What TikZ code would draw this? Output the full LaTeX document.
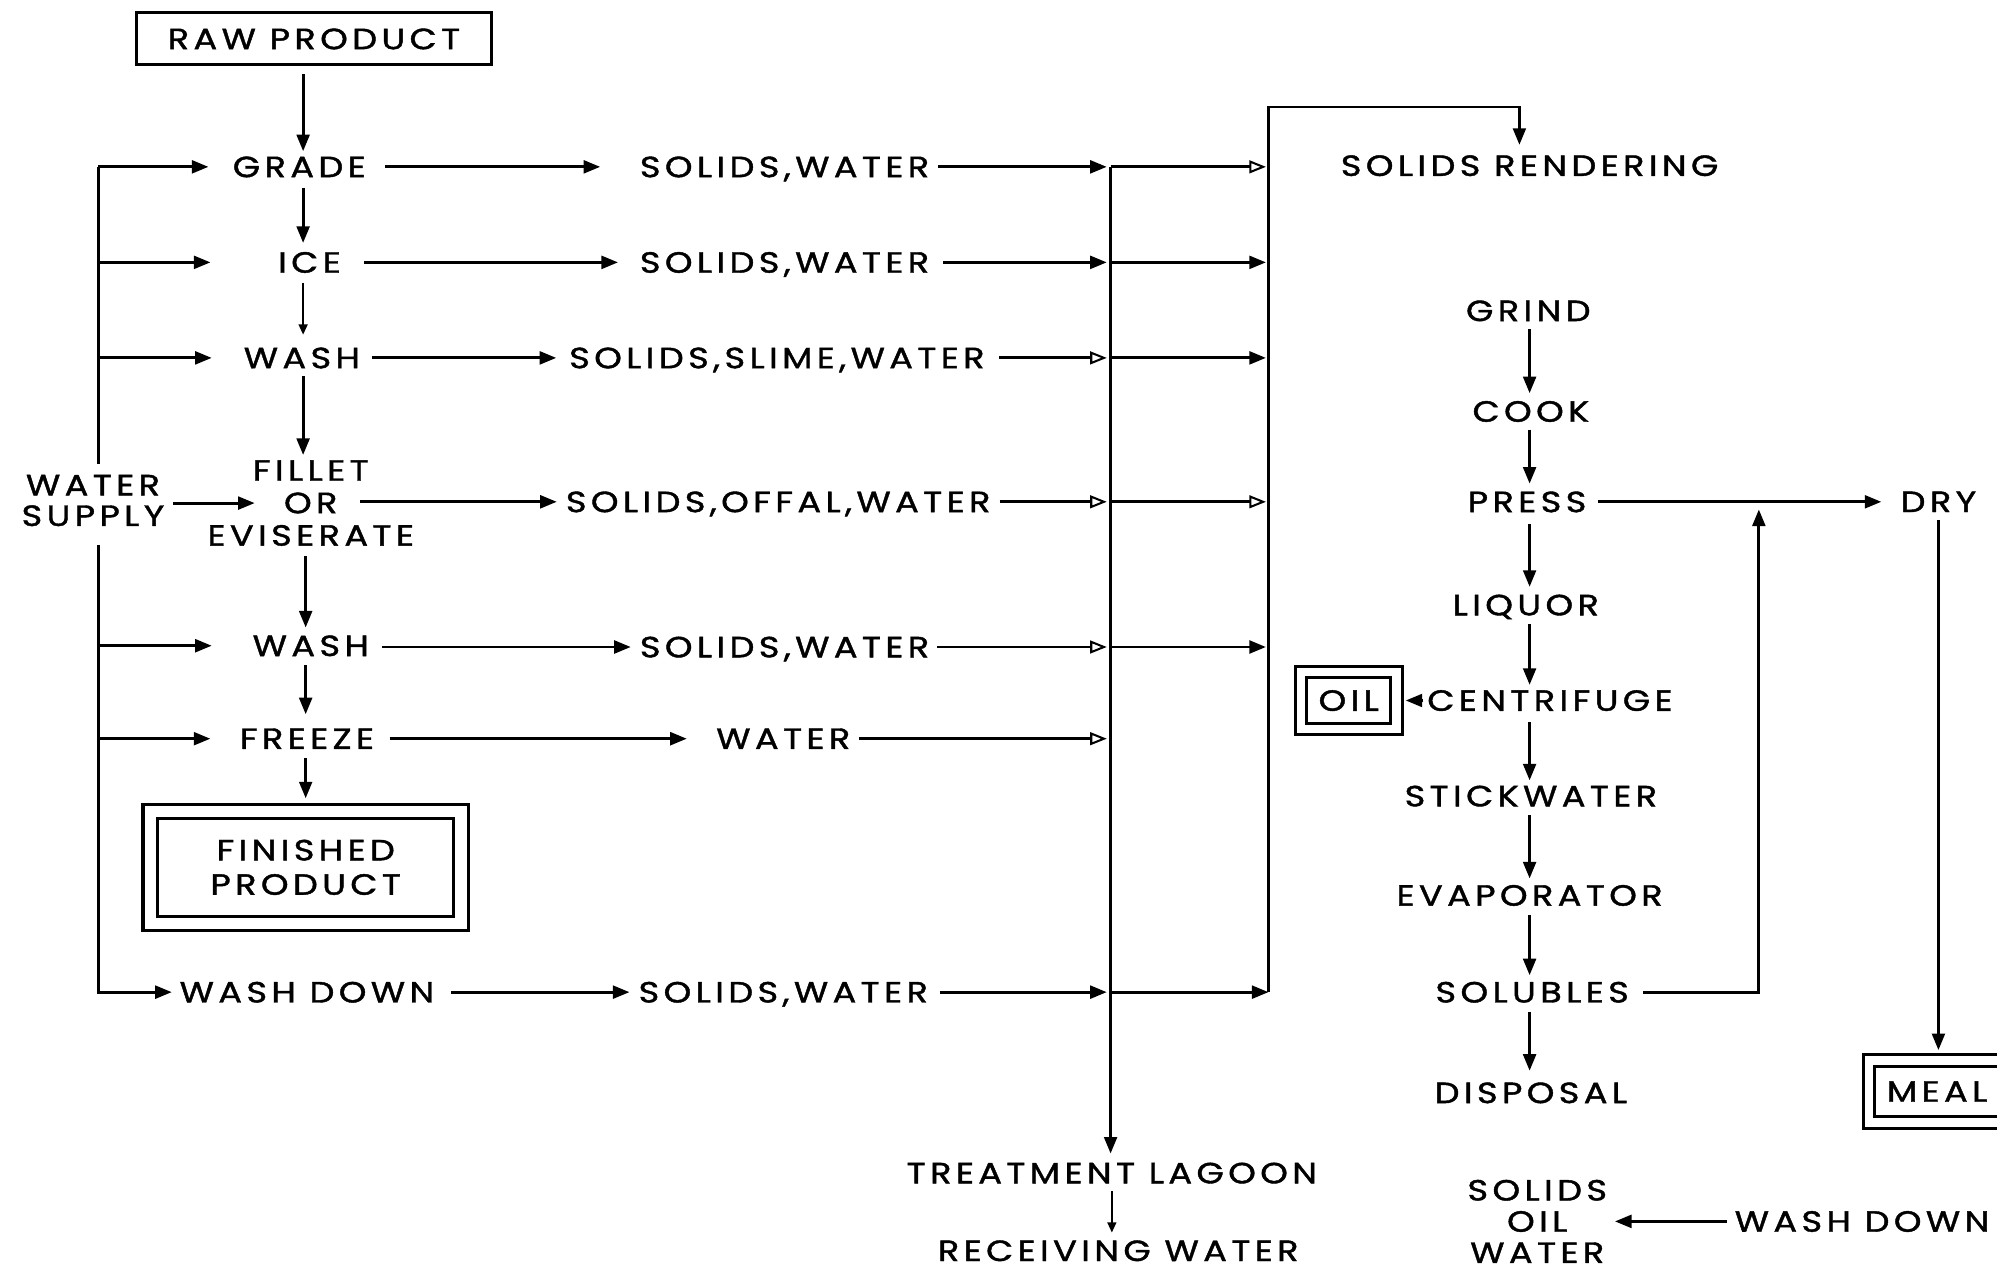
\documentclass[tikz,border=0pt]{standalone}
\usepackage{fontspec}
\setmainfont{Poppins}[LetterSpace=15,FakeBold=1.4,FakeStretch=1.2]
\usetikzlibrary{arrows.meta}
\begin{document}
\begin{tikzpicture}[x=1pt,y=-1pt,line width=2.3pt,
  lbl/.style={inner sep=0pt,align=center,font=\fontsize{23}{25.5}\selectfont},
  one/.style={lbl,text depth=0pt},
  arr/.style={-{Triangle[length=13pt,width=10pt]}},
  oarr/.style={-{Triangle[open,length=13pt,width=10pt,line width=1.6pt]}},
  thinarr/.style={line width=1.3pt,-{Triangle[length=8pt,width=7pt]}},
  dbox/.style={draw,double,double distance=6.5pt,line width=2.4pt,inner sep=0pt}]
\useasboundingbox (0,0) rectangle (1568,997);

% ---------- left column ----------
\node[one,draw,line width=2.3pt,minimum width=279pt,minimum height=41pt] (raw) at (246.5,30.5) {RAW PRODUCT};
\node[one] (grade) at (235,131) {GRADE};
\node[one] (ice) at (243,206) {ICE};
\node[one] (wash1) at (237,281) {WASH};
\node[lbl] (fillet) at (244,395) {FILLET\\OR\\EVISERATE};
\node[one] (wash2) at (244,507) {WASH};
\node[one] (freeze) at (241,580) {FREEZE};
\node[lbl,dbox,double distance=9pt,minimum width=244pt,minimum height=88pt,font=\fontsize{23}{27}\selectfont] (fin) at (240,681) {FINISHED\\PRODUCT};
\node[lbl,font=\fontsize{23}{24}\selectfont] (wsup) at (73,393) {WATER\\SUPPLY};
\node[one] (wdown) at (241,779) {WASH DOWN};

\coordinate (cx) at (238,0);
\coordinate (L) at (77,131);

% ---------- middle column ----------
\node[one] (sw1) at (616,131) {SOLIDS,WATER};
\node[one] (sw2) at (616,206) {SOLIDS,WATER};
\node[one] (ssw) at (610,281) {SOLIDS,SLIME,WATER};
\node[one] (sow) at (611,394) {SOLIDS,OFFAL,WATER};
\node[one] (sw3) at (616,508) {SOLIDS,WATER};
\node[one] (wat) at (615,580) {WATER};
\node[one] (sw4) at (615,779) {SOLIDS,WATER};

\node[one] (lagoon) at (873,921) {TREATMENT LAGOON};
\node[one] (recv) at (878,982) {RECEIVING WATER};
\node[one] (rend) at (1201,130) {SOLIDS RENDERING};

\coordinate (C1) at (872,131);
\coordinate (C2top) at (996,84);
\coordinate (C2bot) at (996,779);
\coordinate (R) at (1193,84);

% ---------- right column ----------
\node[one] (grind) at (1200,244) {GRIND};
\node[one] (cook) at (1202,323) {COOK};
\node[one] (press) at (1199,394) {PRESS};
\node[one] (liquor) at (1198,475) {LIQUOR};
\node[one] (centr) at (1217,550) {CENTRIFUGE};
\node[one] (stick) at (1202,625) {STICKWATER};
\node[one] (evap) at (1201,703) {EVAPORATOR};
\node[one] (solub) at (1203,779) {SOLUBLES};
\node[one] (disp) at (1202,858) {DISPOSAL};
\node[one] (dry) at (1522,394) {DRY};
\node[one,dbox,minimum width=75pt,minimum height=44.5pt] (oil) at (1059,550) {OIL};
\node[one,dbox,minimum width=107pt,minimum height=48.5pt] (meal) at (1521,857) {MEAL};
\node[one] (wd2) at (1462,959) {WASH DOWN};
\node[lbl,font=\fontsize{23}{24.5}\selectfont] (sow2) at (1207,959) {SOLIDS\\OIL\\WATER};
\coordinate (cx2) at (1201,0);
\coordinate (S) at (1381,779);

% ---------- vertical flow, left ----------
\draw[arr,shorten <=6pt,shorten >=3pt] (raw.south -| cx) -- (grade.north -| cx);
\draw[arr,shorten <=7pt,shorten >=6pt] (grade.south -| cx) -- (ice.north -| cx);
\draw[thinarr,shorten <=7pt,shorten >=9pt] (ice.south -| cx) -- (wash1.north -| cx);
\draw[arr,shorten <=5pt,shorten >=3pt] (wash1.south -| cx) -- (fillet.north -| cx);
\draw[arr,shorten <=7pt,shorten >=5pt] (fillet.south -| wash2) ++(-4,0) -- (wash2.north -| 240,0);
\draw[arr,shorten <=6pt,shorten >=10pt] (wash2.south -| 240,0) -- (freeze.north -| 240,0);
\draw[arr,shorten <=6pt,shorten >=9pt] (freeze.south -| 240,0) -- (fin.north -| 240,0);

% ---------- water supply ----------
\draw (L) -- (77,364);
\draw[arr,shorten >=5pt] (77,428) -- (L |- wdown) -- (wdown.west);
\draw[arr,shorten >=18pt] (L |- grade) -- (grade.west);
\draw[arr,shorten >=52pt] (L |- ice) -- (ice.west);
\draw[arr,shorten >=24pt] (L |- wash1) -- (wash1.west);
\draw[arr,shorten >=31pt] (L |- wash2) -- (wash2.west);
\draw[arr,shorten >=22pt] (L |- freeze) -- (freeze.west);
\draw[arr,shorten <=6pt,shorten >=44pt] (wsup.east |- fillet) -- (fillet.center);

% ---------- process -> waste ----------
\draw[arr,shorten <=14pt,shorten >=30pt] (grade.east) -- (sw1.west);
\draw[arr,shorten <=17pt,shorten >=16pt] (ice.east) -- (sw2.west);
\draw[arr,shorten <=8pt,shorten >=9pt] (wash1.east) -- (ssw.west);
\draw[arr,shorten <=39pt,shorten >=6pt] (fillet.center |- sow) -- (sow.west);
\draw[arr,shorten <=9pt,shorten >=6pt] (wash2.east |- sw3) -- (sw3.west);
\draw[arr,shorten <=11pt,shorten >=22pt] (freeze.east) -- (wat.west);
\draw[arr,shorten <=12pt,shorten >=6pt] (wdown.east) -- (sw4.west);

% ---------- waste -> collector ----------
\draw[arr,shorten <=6pt,shorten >=3pt] (sw1.east) -- (sw1.east -| C1);
\draw[arr,shorten <=10pt,shorten >=3pt] (sw2.east) -- (sw2.east -| C1);
\draw[oarr,shorten <=10pt,shorten >=3pt] (ssw.east) -- (ssw.east -| C1);
\draw[oarr,shorten <=6pt,shorten >=3pt] (sow.east) -- (sow.east -| C1);
\draw[oarr,shorten <=5pt,shorten >=3pt] (sw3.east) -- (sw3.east -| C1);
\draw[oarr,shorten <=6pt,shorten >=3pt] (wat.east) -- (wat.east -| C1);
\draw[arr,shorten <=8pt,shorten >=3pt] (sw4.east) -- (sw4.east -| C1);

\draw[oarr,shorten >=2pt] (sw1.east -| C1) -- (sw1.east -| C2top);
\draw[arr,shorten >=2pt] (sw2.east -| C1) -- (sw2.east -| C2top);
\draw[arr,shorten >=2pt] (ssw.east -| C1) -- (ssw.east -| C2top);
\draw[oarr,shorten >=2pt] (sow.east -| C1) -- (sow.east -| C2top);
\draw[arr,shorten >=2pt] (sw3.east -| C1) -- (sw3.east -| C2top);
\draw[arr,shorten >=0pt] (sw4.east -| C1) -- (sw4.east -| C2top);

\draw[arr,shorten >=6pt] (C1) -- (C1 |- lagoon.north);
\draw[thinarr,shorten <=5pt,shorten >=5pt] (lagoon.south) -- (lagoon.south |- recv.north);
\draw[arr,shorten >=7pt] (C2bot) -- (C2top) -- (R) -- (R |- rend.north);

% ---------- right column ----------
\draw[arr,shorten <=5pt,shorten >=5pt] (grind.south -| cx2) -- (cook.north -| cx2);
\draw[arr,shorten <=5pt,shorten >=5pt] (cook.south -| cx2) -- (press.north -| cx2);
\draw[arr,shorten <=8pt,shorten >=5pt] (press.south -| cx2) -- (liquor.north -| cx2);
\draw[arr,shorten <=6pt,shorten >=3pt] (liquor.south -| cx2) -- (centr.north -| cx2);
\draw[arr,shorten <=8pt,shorten >=3pt] (centr.south -| cx2) -- (stick.north -| cx2);
\draw[arr,shorten <=6pt,shorten >=4pt] (stick.south -| cx2) -- (evap.north -| cx2);
\draw[arr,shorten <=6pt,shorten >=4pt] (evap.south -| cx2) -- (solub.north -| cx2);
\draw[arr,shorten <=6pt,shorten >=8pt] (solub.south -| cx2) -- (disp.north -| cx2);
\draw[arr,shorten <=8pt,shorten >=14pt] (press.east) -- (dry.west);
\draw[arr,shorten <=10pt,shorten >=6pt] (solub.east) -- (S) -- (S |- press);
\draw[arr,shorten <=5pt,shorten >=7pt] (dry.south) -- (meal.north -| dry.south);
\draw[arr,shorten <=2pt,shorten >=6pt] (centr.west) -- (oil.east);
\draw[arr,shorten <=5pt,shorten >=61pt] (wd2.west) -- (wd2.west -| sow2.center);
\end{tikzpicture}
\end{document}
